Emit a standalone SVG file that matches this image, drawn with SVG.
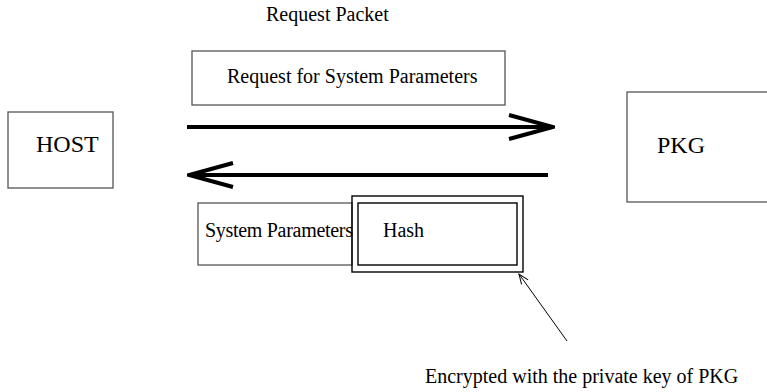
<svg xmlns="http://www.w3.org/2000/svg" width="767" height="392" viewBox="0 0 767 392">
<style>
  .box { fill: none; stroke: #555; stroke-width: 1.3; }
  .dark { fill: none; stroke: #000; stroke-width: 1.4; }
  .t { font-family: "Liberation Serif", "Times New Roman", serif; font-size: 20px; fill: #000; }
  .big { font-size: 24px; }
  .thick { stroke: #000; stroke-width: 4; fill: none; }
  .thin { stroke: #000; stroke-width: 1; fill: none; }
</style>
<defs>
  <marker id="bigHead" markerUnits="userSpaceOnUse" viewBox="0 0 48 28" refX="46" refY="14" markerWidth="48" markerHeight="28" orient="auto">
    <path d="M2,2 L46,14 L2,26" fill="none" stroke="#000" stroke-width="4"/>
  </marker>
  <marker id="smallHead" markerUnits="userSpaceOnUse" viewBox="0 0 12 10" refX="11" refY="5" markerWidth="12" markerHeight="10" orient="auto">
    <path d="M1,1 L11,5 L1,9" fill="none" stroke="#000" stroke-width="1"/>
  </marker>
</defs>
<rect width="767" height="392" fill="#fff"/>

<g id="host">
  <rect class="box" x="8" y="112" width="105" height="76"/>
  <text class="t big" x="36" y="152">HOST</text>
</g>

<g id="pkg">
  <rect class="box" x="627" y="92" width="150" height="110"/>
  <text class="t big" x="657" y="153">PKG</text>
</g>

<g id="request-packet-label">
  <text class="t" x="266" y="21">Request Packet</text>
</g>

<g id="request">
  <rect class="box" x="192" y="51" width="313" height="54"/>
  <text class="t" x="227" y="83">Request for System Parameters</text>
</g>

<g id="system-parameters">
  <rect class="box" x="198" y="203" width="154" height="62"/>
  <text class="t" x="205" y="237" textLength="148">System Parameters</text>
</g>

<g id="hash">
  <rect class="dark" x="352" y="196" width="171" height="76"/>
  <rect class="dark" x="358" y="203" width="159" height="62"/>
  <text class="t" x="383" y="237">Hash</text>
</g>

<g id="encrypted-label">
  <text class="t" x="425" y="383">Encrypted with the private key of PKG</text>
</g>

<g id="connectors">
  <line class="thick" x1="187" y1="127" x2="553" y2="127" marker-end="url(#bigHead)"/>
  <line class="thick" x1="548" y1="175" x2="189" y2="175" marker-end="url(#bigHead)"/>
  <line class="thin" x1="567" y1="341" x2="519" y2="274" marker-end="url(#smallHead)"/>
</g>
</svg>
